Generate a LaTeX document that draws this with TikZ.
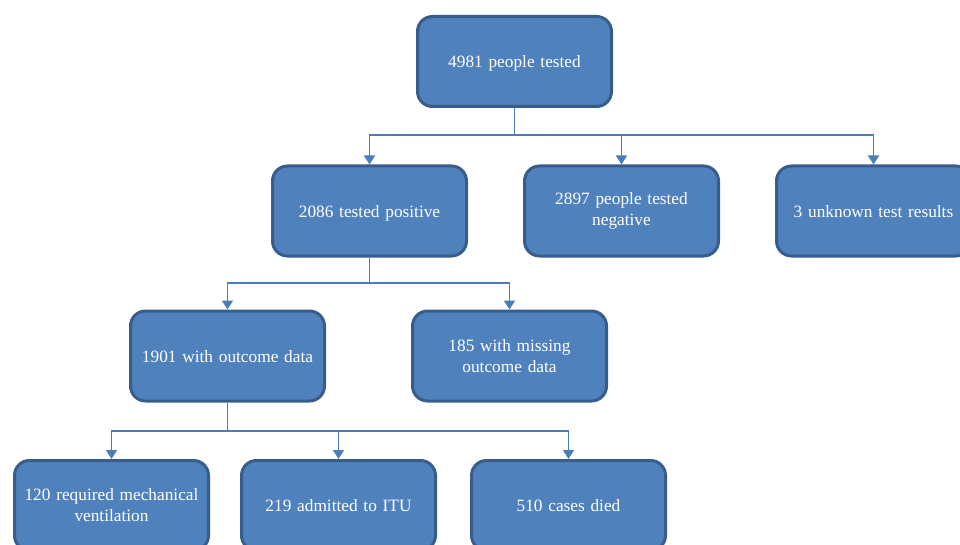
\documentclass[tikz,border=0pt]{standalone}
\usepackage{fontspec}
\setmainfont{Liberation Serif}
\usetikzlibrary{arrows.meta}
\definecolor{boxfill}{HTML}{4F81BD}
\definecolor{boxline}{HTML}{385D8A}
\definecolor{conn}{HTML}{4A7EBB}
\begin{document}
\begin{tikzpicture}[x=1pt,y=-1pt,
  box/.style={rectangle, rounded corners=15pt, fill=boxfill, draw=boxline, line width=3pt,
    minimum width=194pt, minimum height=90pt, text width=188pt, align=center,
    text=white, font=\fontsize{17.3}{21}\selectfont, inner sep=0pt},
  oneline/.style={box, text depth=0pt},
  link/.style={draw=conn, line width=1.6pt},
  arr/.style={link, -{Triangle[length=9pt,width=11pt]}}]
\useasboundingbox (0,0) rectangle (960,545);
\clip (0,0) rectangle (960,545);
\node[oneline] (top) at (514.5,61.5) {4981 people tested};
\node[oneline] (pos) at (369.5,211) {2086 tested positive};
\node[box] (neg) at (621.5,211) {2897 people tested\\negative};
\node[oneline] (unk) at (873.5,211) {3 unknown test results};
\node[oneline] (out) at (227.5,356) {1901 with outcome data};
\node[box] (mis) at (509.5,356) {185 with missing\\outcome data};
\node[box] (mv) at (111.5,505.5) {120 required mechanical\\ventilation};
\node[oneline] (itu) at (338.5,505.5) {219 admitted to ITU};
\node[oneline] (died) at (568.5,505.5) {510 cases died};
% level 1
\coordinate (j1) at (514.5,135);
\draw[link] (top.south) -- (j1);
\draw[arr] (j1) -| (pos.north);
\draw[arr] (j1) -| (neg.north);
\draw[arr] (j1) -| (unk.north);
% level 2
\coordinate (j2) at (369.5,283);
\draw[link] (pos.south) -- (j2);
\draw[arr] (j2) -| (out.north);
\draw[arr] (j2) -| (mis.north);
% level 3
\coordinate (j3) at (227.5,431);
\draw[link] (out.south) -- (j3);
\draw[arr] (j3) -| (mv.north);
\draw[arr] (j3) -| (itu.north);
\draw[arr] (j3) -| (died.north);
\end{tikzpicture}
\end{document}
